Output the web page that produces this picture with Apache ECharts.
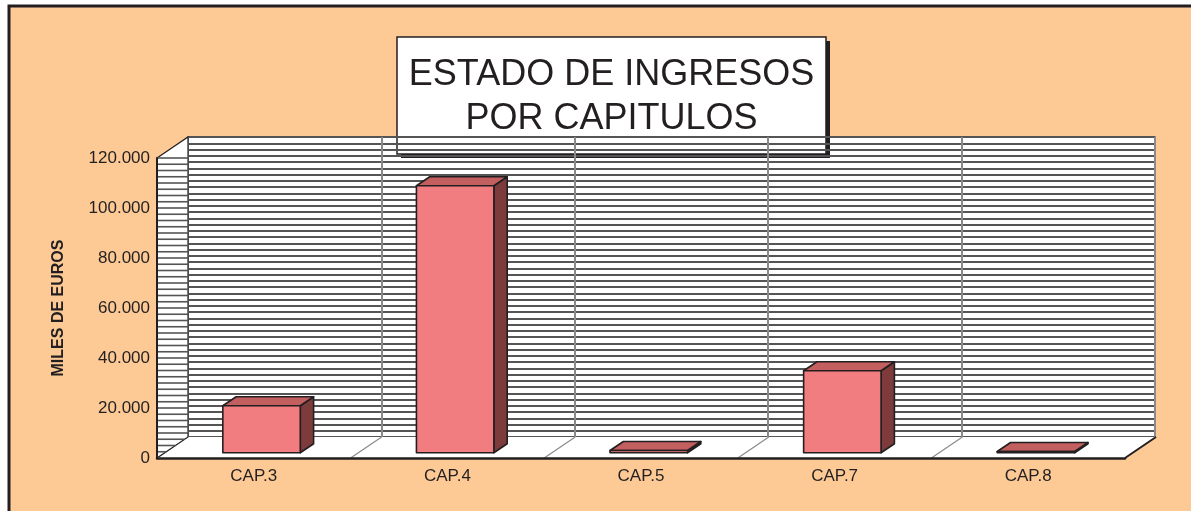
<!DOCTYPE html>
<html>
<head>
<meta charset="utf-8">
<script src="https://cdn.jsdelivr.net/npm/echarts@6/dist/echarts.min.js"></script>
<style>
  html, body { margin: 0; padding: 0; background: #fff; }
  #chart { width: 1191px; height: 511px; }
</style>
</head>
<body>
<div id="chart"></div>
<script>
// datos del grafico
var categorias = ['CAP.3', 'CAP.4', 'CAP.5', 'CAP.7', 'CAP.8'];
var ingresos = [18800, 106800, 900, 32800, 500];
var etiquetasY = ['0', '20.000', '40.000', '60.000', '80.000', '100.000', '120.000'];
var titulo = ['ESTADO DE INGRESOS', 'POR CAPITULOS'];
var nombreEjeY = 'MILES DE EUROS';

// profundidad del efecto 3D (desplazamiento de la pared del fondo)
var PX = 31, PY = -21;
var FONDO = '#FDCA96';
var NEGRO = '#231F20';

var myChart = echarts.init(document.getElementById('chart'));

// suelo y pared izquierda
function renderMarco(params, api) {
  var cs = params.coordSys;
  var x0 = cs.x, x1 = cs.x + cs.width, yt = cs.y, yb = cs.y + cs.height;
  var children = [];
  // suelo
  children.push({
    type: 'polygon',
    shape: { points: [[x0, yb], [x1, yb], [x1 + PX, yb + PY], [x0 + PX, yb + PY]] },
    style: { fill: '#fff', stroke: null }
  });
  // lineas diagonales del suelo
  var paso = cs.width / categorias.length;
  for (var i = 1; i < categorias.length; i++) {
    var xx = x0 + paso * i;
    children.push({
      type: 'line',
      shape: { x1: xx, y1: yb, x2: xx + PX, y2: yb + PY },
      style: { stroke: '#8a8a8a', lineWidth: 1.2 }
    });
  }
  children.push({
    type: 'line',
    shape: { x1: x1, y1: yb, x2: x1 + PX, y2: yb + PY },
    style: { stroke: NEGRO, lineWidth: 2 }
  });
  // pared izquierda
  children.push({
    type: 'polygon',
    shape: { points: [[x0, yt], [x0 + PX, yt + PY], [x0 + PX, yb + PY], [x0, yb]] },
    style: { fill: '#fff', stroke: NEGRO, lineWidth: 1.2 }
  });
  for (var v = 0; v <= 120000; v += 2500) {
    var y = api.coord([0, v])[1];
    var xa = x0, xb = x0 + PX;
    if (y < yt) xa = x0 + (yt - y) / (-PY) * PX;
    if (y > yb + PY) xb = x0 + (yb - y) / (-PY) * PX;
    children.push({
      type: 'line',
      shape: { x1: xa, y1: y, x2: xb, y2: y },
      style: { stroke: '#555', lineWidth: 1.6 }
    });
  }
  return { type: 'group', children: children };
}

// barras 3D
function renderBarra(params, api) {
  var i = api.value(0);
  var base = api.coord([i, 0]);
  var cima = api.coord([i, api.value(1)]);
  var anchoCat = api.size([1, 0])[0];
  var fF = 0.25, fB = 0.68;
  var hw = anchoCat * 0.2;
  var cx = base[0] + fF * PX;
  var yb = base[1] + fF * PY;
  var yt = cima[1] + fF * PY;
  var dx = (fB - fF) * PX, dy = (fB - fF) * PY;
  var l = cx - hw, r = cx + hw;
  var borde = { stroke: NEGRO, lineWidth: 1.6, lineJoin: 'round' };
  return {
    type: 'group',
    children: [
      {
        type: 'polygon',
        shape: { points: [[r, yt], [r + dx, yt + dy], [r + dx, yb + dy], [r, yb]] },
        style: Object.assign({ fill: '#7E3B3B' }, borde)
      },
      {
        type: 'polygon',
        shape: { points: [[l, yt], [r, yt], [r + dx, yt + dy], [l + dx, yt + dy]] },
        style: Object.assign({ fill: '#C45F5F' }, borde)
      },
      {
        type: 'rect',
        shape: { x: l, y: yt, width: r - l, height: yb - yt },
        style: Object.assign({ fill: '#F27D80' }, borde)
      }
    ]
  };
}

var option = {
  backgroundColor: '#fff',
  animation: false,
  textStyle: { fontFamily: 'Liberation Sans, Arial, sans-serif' },
  graphic: [
    {
      type: 'rect', z: -10, silent: true,
      shape: { x: 9, y: 6, width: 1200, height: 520 },
      style: { fill: FONDO, stroke: NEGRO, lineWidth: 3 }
    },
    {
      type: 'group', z: 100,
      children: [
        { type: 'rect', shape: { x: 401, y: 41, width: 429, height: 117 }, style: { fill: NEGRO } },
        { type: 'rect', shape: { x: 397, y: 37, width: 429, height: 117 }, style: { fill: '#fff', stroke: NEGRO, lineWidth: 1.5 } },
        {
          type: 'text', x: 611.5, y: 97,
          style: {
            text: titulo.join('\n'), fill: NEGRO, font: '36px Liberation Sans, Arial, sans-serif',
            align: 'center', verticalAlign: 'middle', lineHeight: 44
          }
        }
      ]
    }
  ],
  grid: [
    { left: 157, top: 158, width: 968, height: 300 },
    {
      left: 188, top: 137, width: 967, height: 300, show: true,
      backgroundColor: '#fff', borderColor: '#555', borderWidth: 1.5
    }
  ],
  xAxis: [
    {
      gridIndex: 0, type: 'category', data: categorias, z: 10,
      axisLine: { lineStyle: { color: NEGRO, width: 2.5 } },
      axisTick: { inside: true, alignWithLabel: true, length: 4, lineStyle: { color: NEGRO } },
      axisLabel: { color: NEGRO, fontSize: 17, margin: 10 },
      splitLine: { show: false }
    },
    {
      gridIndex: 1, type: 'category', data: categorias,
      axisLine: { show: false }, axisTick: { show: false }, axisLabel: { show: false },
      splitLine: { show: true, lineStyle: { color: '#8a8a8a', width: 2 } }
    }
  ],
  yAxis: [
    {
      gridIndex: 0, type: 'value', min: 0, max: 120000, interval: 20000, z: 10,
      name: nombreEjeY, nameLocation: 'middle', nameGap: 90,
      nameTextStyle: { color: NEGRO, fontSize: 16, fontWeight: 'bold' },
      axisLine: { show: true, lineStyle: { color: NEGRO, width: 2 } },
      axisTick: { show: false },
      axisLabel: {
        color: NEGRO, fontSize: 17, margin: 7,
        formatter: function (v) { return etiquetasY[Math.round(v / 20000)]; }
      },
      splitLine: { show: false }
    },
    {
      gridIndex: 1, type: 'value', min: 0, max: 120000, interval: 2500,
      axisLine: { show: false }, axisTick: { show: false }, axisLabel: { show: false },
      splitLine: { show: true, lineStyle: { color: '#555', width: 1.8 } }
    }
  ],
  series: [
    {
      type: 'custom', name: 'marco', xAxisIndex: 0, yAxisIndex: 0, clip: false, z: 3,
      renderItem: renderMarco, data: [[0, 0]], silent: true
    },
    {
      type: 'custom', name: 'ingresos', xAxisIndex: 0, yAxisIndex: 0, clip: false, z: 5,
      renderItem: renderBarra, encode: { x: 0, y: 1 },
      data: ingresos.map(function (v, i) { return [i, v]; })
    }
  ]
};

myChart.setOption(option);
</script>
</body>
</html>
